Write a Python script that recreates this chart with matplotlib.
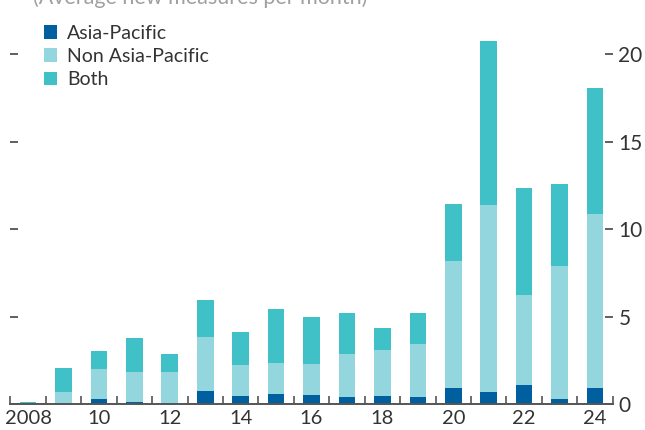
import numpy as np
import matplotlib.pyplot as plt
from matplotlib.ticker import MultipleLocator

plt.rcParams['font.family'] = ['Lato', 'DejaVu Sans']

years = np.arange(2008, 2025)
# average new measures per month, stacked
asia_pacific = [0.0, 0.02, 0.29, 0.11, 0.0, 0.74, 0.46, 0.57, 0.51, 0.40, 0.46, 0.40, 0.91, 0.69, 1.09, 0.29, 0.91]
non_ap_top = [0.0, 0.69, 2.00, 1.83, 1.83, 3.83, 2.23, 2.34, 2.29, 2.86, 3.09, 3.43, 8.17, 11.37, 6.23, 7.89, 10.86]
totals = [0.1, 2.06, 3.03, 3.77, 2.86, 5.94, 4.11, 5.43, 4.97, 5.20, 4.34, 5.20, 11.43, 20.74, 12.34, 12.57, 18.06]

ap = np.array(asia_pacific)
non_ap = np.array(non_ap_top) - ap
both = np.array(totals) - np.array(non_ap_top)

c_ap = "#005f9e"
c_non = "#93d6de"
c_both = "#40c1c7"
txt = "#333333"

fig = plt.figure(figsize=(6.45, 4.30), dpi=100)
ax = fig.add_axes([0.016, 0.0605, 0.934, 0.895])

w = 0.47
ax.bar(years, ap, w, color=c_ap, label="Asia-Pacific")
ax.bar(years, non_ap, w, bottom=ap, color=c_non, label="Non Asia-Pacific")
ax.bar(years, both, w, bottom=ap + non_ap, color=c_both, label="Both")

ax.set_xlim(2007.5, 2024.5)
ax.set_ylim(0, 22)

for s in ["left", "right", "top"]:
    ax.spines[s].set_visible(False)
ax.spines["bottom"].set_color("#555555")
ax.spines["bottom"].set_linewidth(1.4)

ax.set_xticks(years[::2])
ax.set_xticklabels(["2008"] + [str(y % 100) for y in years[2::2]])
ax.set_xticks(np.arange(2007.5, 2025, 1), minor=True)
ax.tick_params(axis="x", which="major", length=0, pad=4.5, labelsize=14.5, labelcolor=txt)
ax.tick_params(axis="x", which="minor", direction="in", length=6, width=1.2, color="#555555")

ax.yaxis.set_major_locator(MultipleLocator(5))
ax.tick_params(axis="y", which="major", direction="in", length=6, width=1.2, color="#444444",
               left=True, right=True, labelleft=False, labelright=True,
               labelsize=15, labelcolor=txt, pad=4)

ax.legend(loc="upper left", bbox_to_anchor=(0.036, 1.016), frameon=False, fontsize=14,
          handlelength=0.7, handleheight=0.7, handletextpad=0.5, labelspacing=0.33,
          labelcolor=txt, borderaxespad=0.2)

fig.text(0.051, 0.99, "(Average new measures per month)", fontsize=15.5, color="#a0a0a0", va="baseline")

fig.savefig("out.png", dpi=100)
